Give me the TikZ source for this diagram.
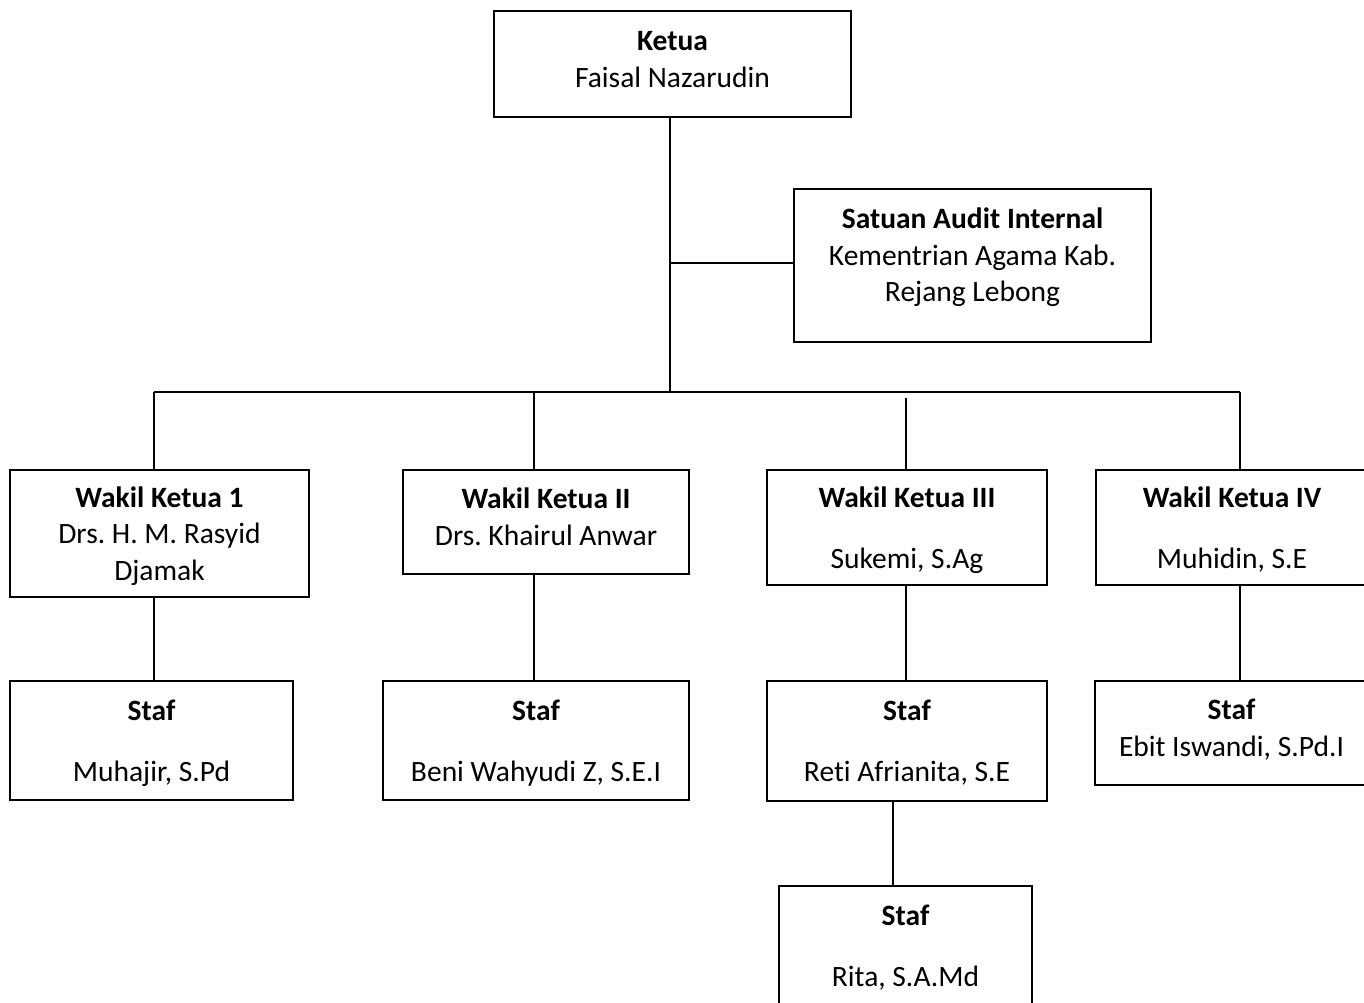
\documentclass[tikz,border=0pt]{standalone}
\usepackage{fontspec}
\setmainfont{Carlito}[Ligatures=NoCommon]
\usepackage{tikz}
\usetikzlibrary{positioning, calc}
\frenchspacing
\definecolor{orgLine}{HTML}{000000}
\tikzset{
  unitbox/.style={rectangle, draw=orgLine, line width=1.1pt, fill=white,
    align=center, inner sep=0pt,
    font=\fontsize{16.8}{20.8}\selectfont},
  orgline/.style={line width=1.1pt, orgLine},
}
\newcommand{\gapline}{\\[13.9pt]}

\begin{document}
\begin{tikzpicture}[x=0.02cm, y=-0.02cm]
    \useasboundingbox (0,0) rectangle (1364,1002);
    % pimpinan
    \node[unitbox, minimum width=357*0.02cm, minimum height=106*0.02cm,
          text depth=5pt] (ketua) at (672.5,64)
      {\textbf{Ketua}\\ Faisal Nazarudin};
    \node[unitbox, minimum width=357*0.02cm, minimum height=153*0.02cm,
          text depth=12pt] (audit) at (972.5,265.5)
      {\textbf{Satuan Audit Internal}\\ Kementrian Agama Kab.\\ Rejang Lebong};
    % wakil ketua
    \node[unitbox, minimum width=299*0.02cm, minimum height=127*0.02cm,
          text depth=-3.4pt] (wakilA) at (159.5,533.5)
      {\textbf{Wakil Ketua 1}\\ Drs. H. M. Rasyid\\ Djamak};
    \node[unitbox, minimum width=286*0.02cm, minimum height=104*0.02cm,
          text depth=6pt] (wakilB) at (546,522)
      {\textbf{Wakil Ketua II}\\ Drs. Khairul Anwar};
    \node[unitbox, minimum width=280*0.02cm, minimum height=115*0.02cm,
          text depth=-0.5pt] (wakilC) at (907,527.5)
      {\textbf{Wakil Ketua III}\gapline Sukemi, S.Ag};
    \node[unitbox, minimum width=272*0.02cm, minimum height=115*0.02cm,
          text depth=-1.4pt] (wakilD) at (1232,527.5)
      {\textbf{Wakil Ketua IV}\gapline Muhidin, S.E};
    % staf
    \node[unitbox, minimum width=283*0.02cm, minimum height=119*0.02cm,
          text depth=-1pt] (stafA) at (151.5,740.5)
      {\textbf{Staf}\gapline Muhajir, S.Pd};
    \node[unitbox, minimum width=306*0.02cm, minimum height=119*0.02cm,
          text depth=-1.1pt] (stafB) at (536,740.5)
      {\textbf{Staf}\gapline Beni Wahyudi Z, S.E.I};
    \node[unitbox, minimum width=280*0.02cm, minimum height=120*0.02cm,
          text depth=-1.4pt] (stafC) at (907,741)
      {\textbf{Staf}\gapline Reti Afrianita, S.E};
    \node[unitbox, minimum width=273*0.02cm, minimum height=104*0.02cm,
          text depth=6pt] (stafD) at (1231.5,733)
      {\textbf{Staf}\\ Ebit Iswandi, S.Pd.I};
    \node[unitbox, minimum width=253*0.02cm, minimum height=124*0.02cm]
      (stafE) at (905.5,948)
      {\textbf{Staf}\gapline Rita, S.A.Md};
    % garis komando
    \coordinate (trunk) at (670,392);
    \coordinate (busL) at (154,392);
    \coordinate (busR) at (1240,392);
    \coordinate (dropC) at (906,398);
    \draw[orgline] (ketua.south -| trunk) -- (trunk);
    \draw[orgline] (busL) -- (busR);
    \draw[orgline] (trunk |- 0,263) -- (audit.west |- 0,263);
    \draw[orgline] (busL) -- (busL |- wakilA.north);
    \draw[orgline] (534,392) -- (534,392 |- wakilB.north);
    \draw[orgline] (dropC) -- (dropC |- wakilC.north);
    \draw[orgline] (busR) -- (busR |- wakilD.north);
    \draw[orgline] (wakilA.south -| busL) -- (stafA.north -| busL);
    \draw[orgline] (wakilB.south -| 534,0) -- (stafB.north -| 534,0);
    \draw[orgline] (wakilC.south -| dropC) -- (stafC.north -| dropC);
    \draw[orgline] (wakilD.south -| busR) -- (stafD.north -| busR);
    \draw[orgline] (stafC.south -| 893,0) -- (stafE.north -| 893,0);
\end{tikzpicture}
\end{document}
